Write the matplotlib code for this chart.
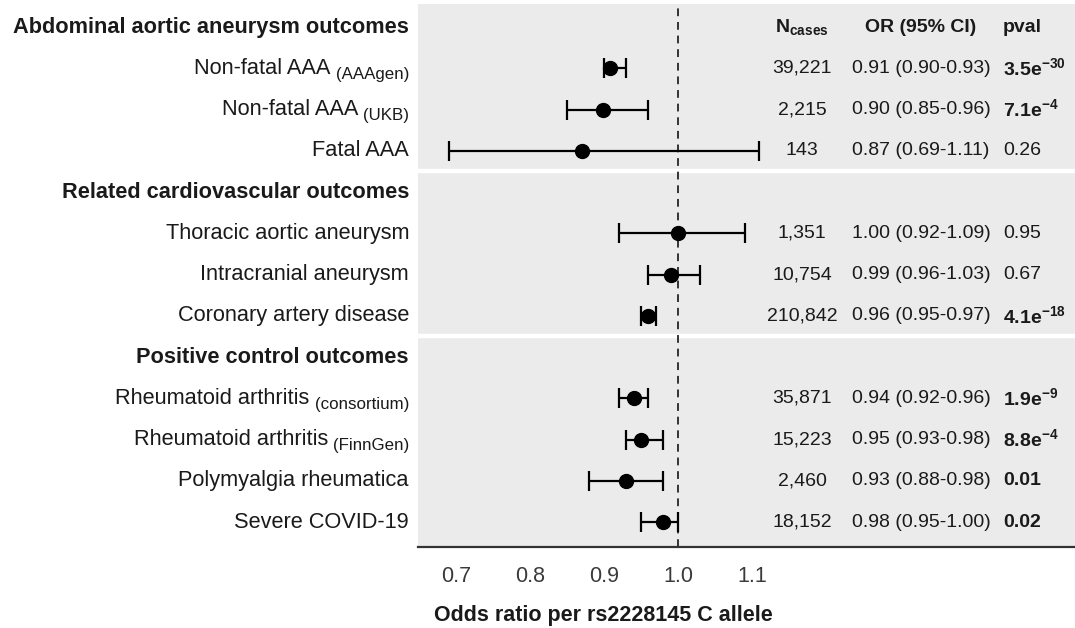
import matplotlib.pyplot as plt
from matplotlib.transforms import blended_transform_factory, offset_copy

plt.rcParams['font.family'] = 'Liberation Sans'
plt.rcParams['mathtext.fontset'] = 'custom'
plt.rcParams['mathtext.rm'] = 'Liberation Sans'
plt.rcParams['mathtext.bf'] = 'Liberation Sans:bold'
plt.rcParams['mathtext.it'] = 'Liberation Sans:italic'

# data
groups = ['Abdominal aortic aneurysm outcomes',
          'Related cardiovascular outcomes',
          'Positive control outcomes']
outcomes = ['Non-fatal AAA', 'Non-fatal AAA', 'Fatal AAA',
            'Thoracic aortic aneurysm', 'Intracranial aneurysm', 'Coronary artery disease',
            'Rheumatoid arthritis', 'Rheumatoid arthritis', 'Polymyalgia rheumatica',
            'Severe COVID-19']
sources = ['AAAgen', 'UKB', '', '', '', '', 'consortium', 'FinnGen', '', '']
group_idx = [0, 0, 0, 1, 1, 1, 2, 2, 2, 2]
or_est = [0.908, 0.898, 0.87, 1.00, 0.99, 0.96, 0.94, 0.95, 0.93, 0.98]
ci_lo = [0.90, 0.85, 0.69, 0.92, 0.96, 0.95, 0.92, 0.93, 0.88, 0.95]
ci_hi = [0.93, 0.96, 1.11, 1.09, 1.03, 0.97, 0.96, 0.98, 0.98, 1.00]
n_cases = ['39,221', '2,215', '143', '1,351', '10,754', '210,842',
           '35,871', '15,223', '2,460', '18,152']
or_text = ['0.91 (0.90-0.93)', '0.90 (0.85-0.96)', '0.87 (0.69-1.11)',
           '1.00 (0.92-1.09)', '0.99 (0.96-1.03)', '0.96 (0.95-0.97)',
           '0.94 (0.92-0.96)', '0.95 (0.93-0.98)', '0.93 (0.88-0.98)',
           '0.98 (0.95-1.00)']
pvals = ['3.5e-30', '7.1e-4', '0.26', '0.95', '0.67', '4.1e-18',
         '1.9e-9', '8.8e-4', '0.01', '0.02']
signif = [True, True, False, False, False, True, True, True, True, True]
xticks = [0.7, 0.8, 0.9, 1.0, 1.1]

# row layout: a header row before each group
header_rows = {}
item_rows = []
row = 0
for i, g in enumerate(group_idx):
    if g not in header_rows:
        header_rows[g] = row
        row += 1
    item_rows.append(row)
    row += 1
ys = [-r for r in item_rows]


def fmt_p(p, bold):
    if 'e' in p:
        m, e = p.split('e')
        if bold:
            return r'$\mathbf{%se}^{\mathbf{%s}}$' % (m, e)
        return r'$\mathrm{%se}^{\mathrm{%s}}$' % (m, e)
    return p


W, H = 1075, 628
fig = plt.figure(figsize=(W / 100, H / 100), dpi=100)
ax = fig.add_axes([418 / W, 1 - 547 / H, 657 / W, 543 / H])
ax.set_facecolor('#EBEBEB')
for s in ['top', 'left', 'right']:
    ax.spines[s].set_visible(False)
ax.spines['bottom'].set_color('#333333')
ax.spines['bottom'].set_linewidth(1.6)

ax.set_xlim(1 - 260 / 740, 1 + 397 / 740)
ax.set_ylim(-12.606, 0.558)

# white separators between groups
for g, r in header_rows.items():
    if r > 0:
        ax.axhline(-(r - 0.5), color='white', lw=3.2, zorder=1)

ax.axvline(1.0, color='#333333', lw=1.4, ls=(0, (4, 3)), zorder=2)

xerr = [[o - l for o, l in zip(or_est, ci_lo)], [h - o for o, h in zip(or_est, ci_hi)]]
ax.errorbar(or_est, ys, xerr=xerr, fmt='o', color='black', ms=10,
            elinewidth=1.6, capsize=7.5, capthick=1.6, zorder=3)

ax.set_xticks(xticks)
ax.set_xticklabels(['%.1f' % t for t in xticks])
ax.tick_params(axis='x', length=0, pad=14, labelsize=15.5, colors='#3a3a3a')
ax.set_yticks([])

trans = blended_transform_factory(fig.transFigure, ax.transData)
trans_sub = offset_copy(trans, fig=fig, y=-6, units='dots')
renderer = fig.canvas.get_renderer()
lab_x = 409 / W
txt_color = '#1a1a1a'

for g, r in header_rows.items():
    ax.text(lab_x, -r, groups[g], transform=trans, ha='right', va='center',
            fontsize=15.7, fontweight='bold', color=txt_color, clip_on=False)

for i, y in enumerate(ys):
    x_main = lab_x
    if sources[i]:
        sub = ax.text(lab_x, y, '(%s)' % sources[i], transform=trans_sub,
                      ha='right', va='center', fontsize=12.2, color=txt_color,
                      clip_on=False)
        bb = sub.get_window_extent(renderer)
        x_main = (bb.x0 - 5) / W
    ax.text(x_main, y, outcomes[i], transform=trans, ha='right', va='center',
            fontsize=15.7, color=txt_color, clip_on=False)
    ax.text(802 / W, y, n_cases[i], transform=trans, ha='center', va='center',
            fontsize=14, color=txt_color)
    ax.text(921 / W, y, or_text[i], transform=trans, ha='center', va='center',
            fontsize=14, color=txt_color)
    ax.text(1003 / W, y, fmt_p(pvals[i], signif[i]), transform=trans,
            ha='left', va='center', fontsize=14, color=txt_color,
            fontweight='bold' if signif[i] else 'normal')

# column headers
ax.text(802 / W, 0, r'$\mathbf{N}_{\mathbf{cases}}$', transform=trans,
        ha='center', va='center', fontsize=14, color=txt_color)
ax.text(921 / W, 0, 'OR (95% CI)', transform=trans, ha='center', va='center',
        fontsize=14, fontweight='bold', color=txt_color)
ax.text(1003 / W, 0, 'pval', transform=trans, ha='left', va='center',
        fontsize=14, fontweight='bold', color=txt_color)

fig.text(603 / W, 1 - 615 / H, 'Odds ratio per rs2228145 C allele',
         ha='center', va='center', fontsize=15.5, fontweight='bold', color=txt_color)

fig.savefig('out.png', dpi=100)
